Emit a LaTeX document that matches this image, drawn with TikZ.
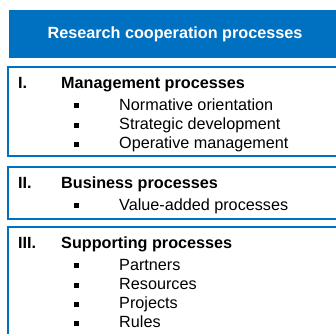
\documentclass[tikz,border=0pt]{standalone}
\usepackage{fontspec}
\setmainfont{Liberation Sans}
\usepackage{xcolor}
\usetikzlibrary{positioning}
\definecolor{azulProc}{RGB}{0,112,192}
\newcommand{\marcador}{\makebox[45pt][l]{\raisebox{1.8pt}{\rule{5pt}{5pt}}}}
\newcommand{\numeral}[1]{\makebox[43pt][l]{#1}}
\tikzset{
  cabeca/.style={rectangle, fill=azulProc, inner sep=0pt, outer sep=0pt,
                 minimum width=332pt, minimum height=48pt,
                 text=white, font=\fontsize{16.2}{19}\selectfont\bfseries},
  caixa/.style={rectangle, draw=azulProc, line width=2pt, inner sep=0pt,
                outer sep=0pt, minimum width=345pt},
  titulo/.style={anchor=base west, inner sep=0pt, font=\fontsize{16.2}{19}\selectfont\bfseries},
  item/.style={anchor=base west, inner sep=0pt, font=\fontsize{16.2}{19}\selectfont},
}

\begin{document}
\begin{tikzpicture}[x=1pt, y=-1pt]
  \useasboundingbox (0,0) rectangle (336,333);
  \clip (0,0) rectangle (336,333);

  \node[cabeca, anchor=north west] (head) at (9,10) {Research cooperation processes};

  % the three process groups
  \node[caixa, anchor=north west, minimum height=89pt] (boxI) at (8,67) {};
  \node[caixa, anchor=north west, minimum height=52pt] (boxII) at (8,167) {};
  \node[caixa, anchor=north west, minimum height=130pt] (boxIII) at (8,227) {};

  \node[titulo] (mgmt) at (18,88) {\numeral{I.}Management processes};
  \node[item, below=22pt of mgmt.base west, xshift=56pt, anchor=base west] (mgmtA)
       {\marcador Normative orientation};
  \node[item, below=19.3pt of mgmtA.base west, anchor=base west] (mgmtB)
       {\marcador Strategic development};
  \node[item, below=19.3pt of mgmtB.base west, anchor=base west] (mgmtC)
       {\marcador Operative management};

  \node[titulo] (busi) at (18,188) {\numeral{II.}Business processes};
  \node[item, below=22pt of busi.base west, xshift=56pt, anchor=base west] (busiA)
       {\marcador Value-added processes};

  \node[titulo] (supp) at (18,248) {\numeral{III.}Supporting processes};
  \node[item, below=22pt of supp.base west, xshift=56pt, anchor=base west] (suppA)
       {\marcador Partners};
  \node[item, below=19.3pt of suppA.base west, anchor=base west] (suppB)
       {\marcador Resources};
  \node[item, below=19.3pt of suppB.base west, anchor=base west] (suppC)
       {\marcador Projects};
  \node[item, below=19.3pt of suppC.base west, anchor=base west] (suppD)
       {\marcador Rules};
\end{tikzpicture}
\end{document}
